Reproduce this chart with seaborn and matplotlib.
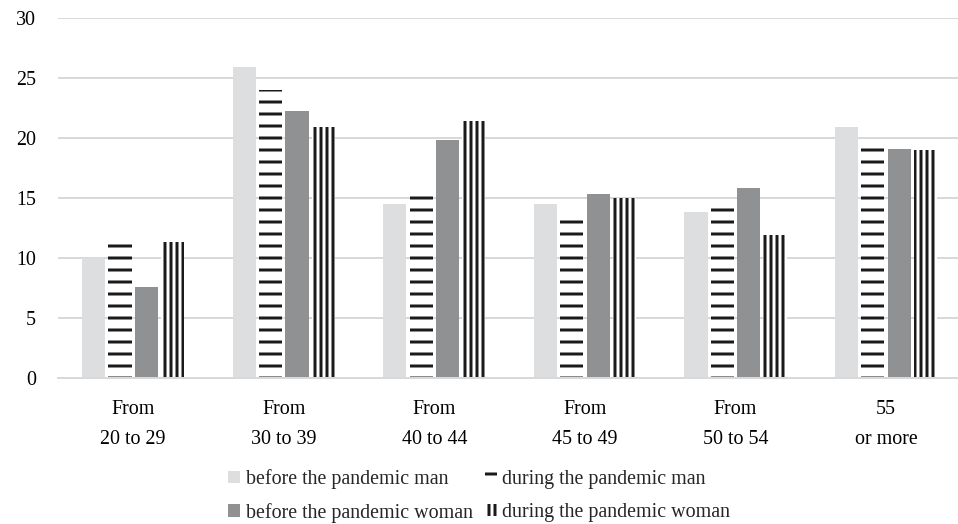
import pandas as pd
import numpy as np
import matplotlib
matplotlib.use('Agg')
import matplotlib.pyplot as plt
from matplotlib.patches import Patch
import seaborn as sns

age_groups = ['From\n20 to 29', 'From\n30 to 39', 'From\n40 to 44',
              'From\n45 to 49', 'From\n50 to 54', '55\nor more']
series = ['before the pandemic man', 'during the pandemic man',
          'before the pandemic woman', 'during the pandemic woman']
before_man = [10.0, 25.9, 14.5, 14.5, 13.8, 20.9]
during_man = [11.6, 24.0, 15.3, 13.5, 14.4, 19.3]
before_woman = [7.6, 22.2, 19.8, 15.3, 15.8, 19.1]
during_woman = [11.3, 20.9, 21.4, 15.0, 11.9, 19.0]

df = pd.DataFrame({
    'age': age_groups * 4,
    'series': np.repeat(series, len(age_groups)),
    'value': before_man + during_man + before_woman + during_woman,
})

colors = ['#DDDEE0', 'white', '#909193', 'white']
hatches = ['', '-', '', '||']

sns.set_style('white')
plt.rcParams['font.family'] = ['Liberation Serif', 'DejaVu Serif']
plt.rcParams['hatch.linewidth'] = 3

fig = plt.figure(figsize=(958 / 72, 524 / 72), dpi=72)
ax = fig.add_axes([0.0605, 0.279, 0.943, 0.687])

sns.barplot(data=df, x='age', y='value', hue='series', palette=colors,
            width=0.7, gap=0.12, ax=ax, legend=False, saturation=1)

for cont, h in zip(ax.containers, hatches):
    for bar in cont:
        bar.set_hatch(h)
        bar.set_edgecolor('#1a1a1a')
        bar.set_linewidth(0)

ax.set_ylim(0, 30)
ax.set_yticks(range(0, 31, 5))
ax.yaxis.grid(True, color='#D9D9D9', linewidth=2)
ax.set_axisbelow(True)
for s in ['top', 'right', 'left']:
    ax.spines[s].set_visible(False)
ax.spines['bottom'].set_color('#D9D9D9')
ax.spines['bottom'].set_linewidth(2)
ax.set_xlabel('')
ax.set_ylabel('')
ax.tick_params(axis='both', length=0, labelsize=20, colors='black')
ax.tick_params(axis='x', pad=22)
ax.tick_params(axis='y', pad=22)
for lbl in ax.get_xticklabels():
    lbl.set_linespacing(1.8)

handles = [Patch(facecolor=c, edgecolor='#1a1a1a', linewidth=0, hatch=h, label=s)
           for c, h, s in zip(colors, hatches, series)]
order = [0, 2, 1, 3]
fig.legend([handles[i] for i in order], [series[i] for i in order],
           loc='lower center', bbox_to_anchor=(0.5, -0.013), ncol=2, frameon=False,
           fontsize=20, handlelength=0.6, handleheight=0.6, handletextpad=0.3,
           columnspacing=0.6, labelspacing=0.7, borderaxespad=0)

fig.savefig('out.png', dpi=72)
